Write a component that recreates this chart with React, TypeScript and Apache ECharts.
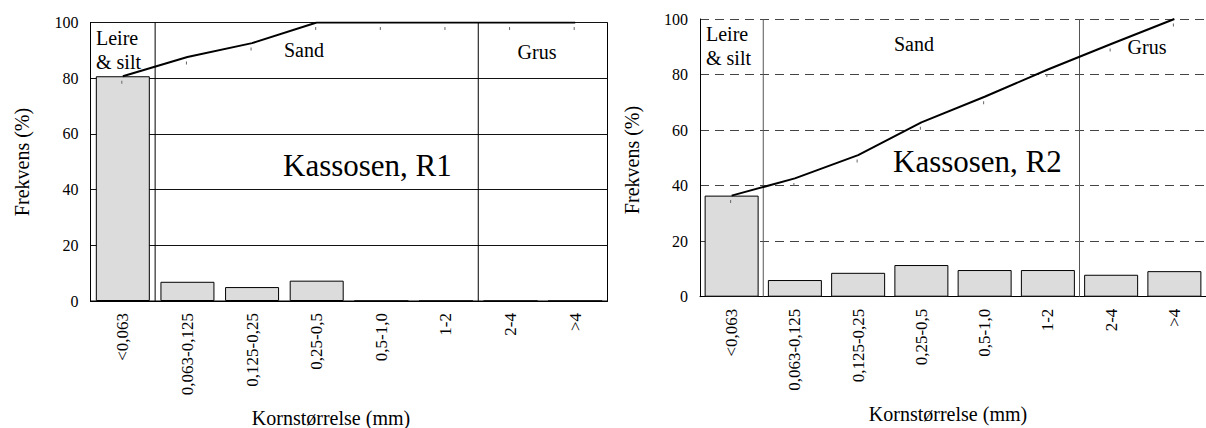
import React, { useEffect, useRef } from "react";
import * as echarts from "echarts";

const categories = ["<0,063", "0,063-0,125", "0,125-0,25", "0,25-0,5", "0,5-1,0", "1-2", "2-4", ">4"];
const r1Freq = [80.7, 6.9, 5.0, 7.3, 0, 0, 0, 0];
const r1Cum = [80.7, 87.6, 92.6, 100, 100, 100, 100, 100];
const r2Freq = [36.4, 6.0, 8.6, 11.4, 9.6, 9.6, 7.9, 9.2];
const r2Cum = [36.4, 42.6, 51.0, 62.8, 72.0, 81.8, 91.0, 100];
const classBoundaries = [1, 6];
const classNames = ["Leire\n& silt", "Sand", "Grus"];
const titles = ["Kassosen, R1", "Kassosen, R2"];
const yName = "Frekvens (%)";
const xName = "Kornstørrelse (mm)";
const yMin = 0;
const yMax = 100;
const yStep = 20;

const FONT = "Liberation Serif";

export default function App() {
  const ref = useRef<HTMLDivElement>(null);
  useEffect(() => {
    if (!ref.current) return;
    const chart = echarts.init(ref.current, null, { renderer: "svg" });
    const grids = [
      { left: 90.5, top: 22.5, width: 517, height: 278.5, show: true, borderColor: "#000", borderWidth: 1 },
      { left: 700, top: 19, width: 517.6, height: 277.7, show: false },
    ];
    const freqs = [r1Freq, r2Freq];
    const cums = [r1Cum, r2Cum];
    const xAxes: any[] = [];
    const yAxes: any[] = [];
    const series: any[] = [];
    [0, 1].forEach((i) => {
      xAxes.push({
        type: "category",
        gridIndex: i,
        data: categories,
        boundaryGap: true,
        axisLine: { lineStyle: { color: "#000", width: 1 } },
        axisTick: { alignWithLabel: true, length: 6, lineStyle: { color: "#000" } },
        axisLabel: { rotate: 90, margin: 12, fontSize: 17, color: "#000", fontFamily: FONT, interval: 0 },
        splitLine: { show: false },
      });
      yAxes.push({
        type: "value",
        gridIndex: i,
        min: yMin,
        max: yMax,
        interval: yStep,
        axisLine: { show: true, lineStyle: { color: "#000" } },
        axisTick: { show: false },
        axisLabel: { fontSize: 16, margin: 12, color: "#000", fontFamily: FONT },
        splitLine: {
          lineStyle: { color: i === 0 ? "#111" : "#444", width: 1, type: i === 0 ? "solid" : [9, 6] },
        },
      });
    });
    [0, 1].forEach((i) => {
      xAxes.push({ type: "value", gridIndex: i, min: 0, max: categories.length, show: false });
    });
    [0, 1].forEach((i) => {
      series.push({
        type: "bar",
        xAxisIndex: i,
        yAxisIndex: i,
        data: freqs[i],
        barWidth: 54,
        itemStyle: { color: "#dcdcdc", borderColor: "#000", borderWidth: 1 },
        z: 2,
      });
      classBoundaries.forEach((b) => {
        series.push({
          type: "line",
          xAxisIndex: 2 + i,
          yAxisIndex: i,
          data: [
            [b, yMin],
            [b, yMax],
          ],
          symbol: "none",
          lineStyle: { color: i === 0 ? "#000" : "#555", width: 1 },
          z: 3,
        });
      });
      series.push({
        type: "line",
        xAxisIndex: i,
        yAxisIndex: i,
        data: cums[i],
        symbol: "rect",
        symbolSize: [1, 3],
        symbolOffset: [-1, 6],
        itemStyle: { color: "#666" },
        lineStyle: { color: "#000", width: 2 },
        z: 5,
      });
    });

    const txt = (text: string, x: number, y: number, size: number, align = "center", vAlign = "middle", extra: any = {}) => ({
      type: "text",
      x,
      y,
      silent: true,
      style: {
        text,
        fill: "#000",
        fontSize: size,
        fontFamily: FONT,
        align,
        verticalAlign: vAlign,
        lineHeight: 24,
      },
      ...extra,
    });

    const graphic = [
      txt(classNames[0], 96, 26, 20, "left", "top"),
      txt(classNames[1], 304, 50, 20),
      txt(classNames[2], 537, 52, 20),
      txt(titles[0], 283, 165, 31, "left"),
      txt(yName, 22, 162, 20, "center", "middle", { rotation: Math.PI / 2 }),
      txt(xName, 331, 418, 20),

      txt(classNames[0], 706, 22, 20, "left", "top"),
      txt(classNames[1], 914, 44, 20),
      txt(classNames[2], 1147, 47, 20),
      txt(titles[1], 893, 161, 31, "left"),
      txt(yName, 632, 160, 20, "center", "middle", { rotation: Math.PI / 2 }),
      txt(xName, 948, 414, 20),
    ];

    chart.setOption({
      animation: false,
      backgroundColor: "#fff",
      textStyle: { fontFamily: FONT },
      grid: grids,
      xAxis: xAxes,
      yAxis: yAxes,
      series,
      graphic,
    });
    return () => chart.dispose();
  }, []);
  return (
    <div
      ref={ref}
      style={{ position: "absolute", left: 0, top: 0, width: 1206, height: 428, background: "#fff" }}
    />
  );
}
